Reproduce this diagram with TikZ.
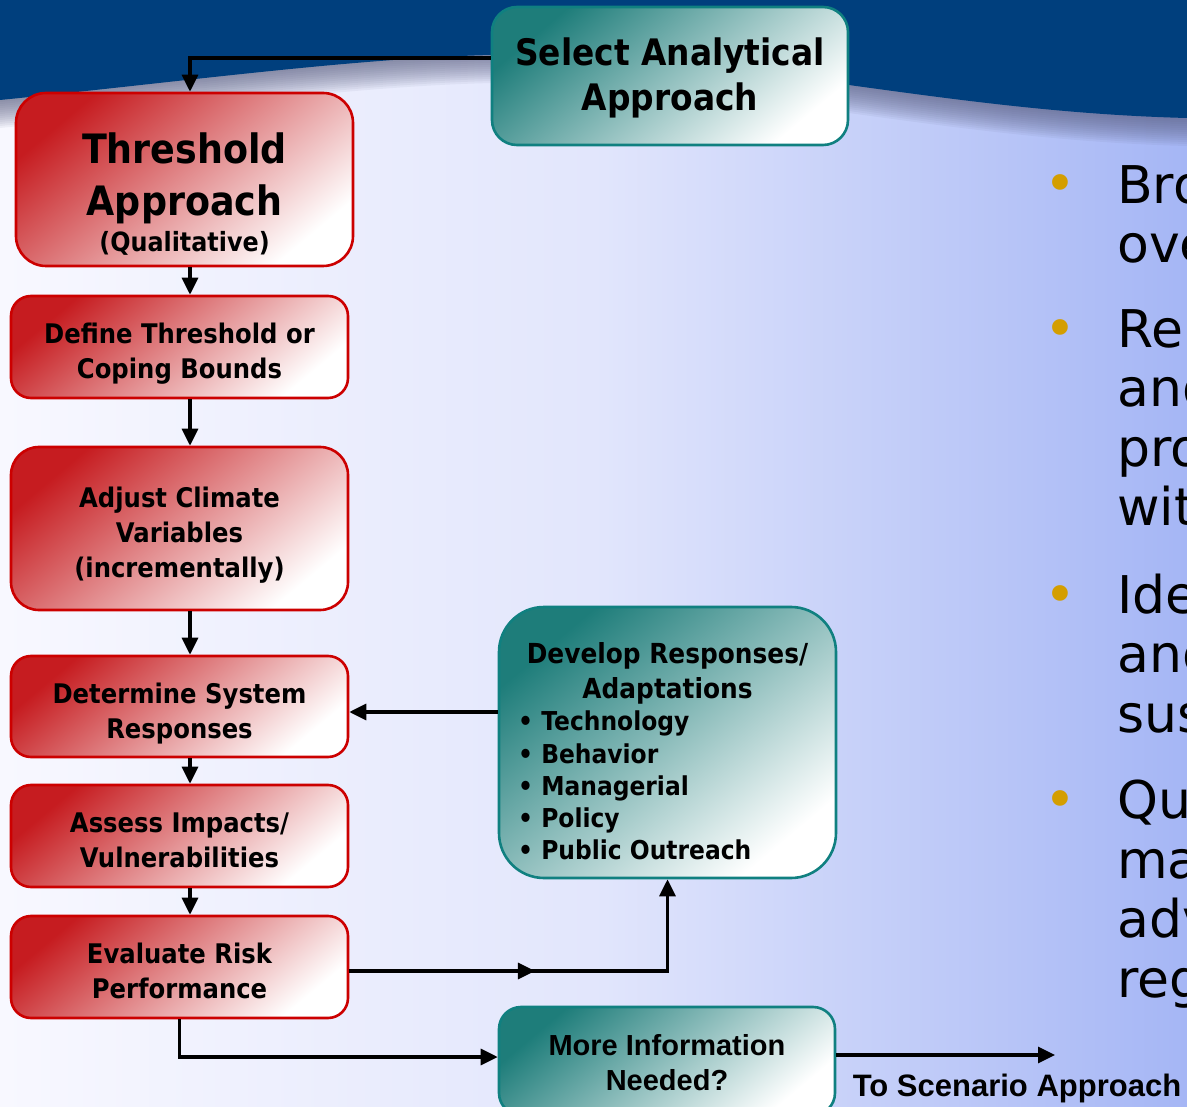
\documentclass[tikz,border=0pt]{standalone}
\usepackage{fontspec}
\setmainfont{DejaVu Sans}
\newfontfamily\boxfont{DejaVu Sans}[FakeStretch=0.9]
\newfontfamily\arialfont{Liberation Sans}
\newfontfamily\sidefont{DejaVu Sans}
\usetikzlibrary{arrows.meta,decorations.markings}

\definecolor{navy}{RGB}{0,63,125}
\definecolor{redb}{RGB}{204,0,0}
\definecolor{redf}{RGB}{198,28,32}
\definecolor{tealb}{RGB}{16,128,128}
\definecolor{tealf}{RGB}{30,125,122}
\definecolor{bgl}{RGB}{248,248,255}
\definecolor{bgm}{RGB}{226,230,252}
\definecolor{bgr}{RGB}{165,182,245}
\definecolor{dotc}{RGB}{212,158,0}
\definecolor{shadowc}{RGB}{90,95,130}

\tikzset{
  redbox/.style={draw=redb, line width=2.6pt, top color=redf, bottom color=white,
    shading angle=40, minimum width=337pt, inner sep=0pt, rounded corners=20pt},
  tealbox/.style={draw=tealb, line width=2.6pt, top color=tealf, bottom color=white,
    shading angle=40, inner sep=0pt, rounded corners=22pt},
  boxtext/.style={inner sep=0pt, align=center, font=\boxfont\bfseries\fontsize{27}{35}\selectfont},
  bullettext/.style={inner sep=0pt, align=left, anchor=north west, font=\boxfont\bfseries\fontsize{26}{32.25}\selectfont},
  arialtext/.style={inner sep=0pt, align=center, font=\arialfont\bfseries\fontsize{29}{35}\selectfont},
  tip/.style={-{Triangle[length=17pt,width=16pt]}},
  conn/.style={line width=3.3pt, tip},
  sidetext/.style={inner sep=0pt, align=left, anchor=north west, font=\sidefont\fontsize{52}{59.5}\selectfont},
  sidedot/.style={inner sep=0pt, anchor=base, text=dotc, font=\sidefont\fontsize{54}{54}\selectfont},
}

\begin{document}
\begin{tikzpicture}[x=1pt,y=-1pt]
\useasboundingbox (0,0) rectangle (1187,1107);
\clip (0,0) rectangle (1187,1107);

% background
\shade[left color=bgl, right color=bgr, middle color=bgm] (0,0) rectangle (1187,1107);
\foreach \i in {1,...,14} {
  \fill[shadowc, opacity=0.07] (0,0) -- (1187,0) -- (1187,{118+2*\i})
    .. controls (950,{112+2*\i}) and (760,{60+2*\i}) .. (540,{55+2*\i})
    .. controls (400,{51.8+2*\i}) and (200,{80+2*\i}) .. (0,{100+2*\i}) -- cycle;
}
\fill[navy] (0,0) -- (1187,0) -- (1187,118)
    .. controls (950,112) and (760,60) .. (540,55)
    .. controls (400,51.8) and (200,80) .. (0,100) -- cycle;

% boxes
\node[tealbox, minimum width=356pt, minimum height=138pt, rounded corners=25pt] (select) at (670,76) {};
\node[redbox, minimum height=173pt, rounded corners=30pt] (thr) at (184.5,179.5) {};
\node[redbox, minimum height=102pt] (def) at (179.5,347) {};
\node[redbox, minimum height=163pt, rounded corners=28pt] (adj) at (179.5,528.5) {};
\node[redbox, minimum height=101pt] (det) at (179.5,706.5) {};
\node[redbox, minimum height=102pt] (ass) at (179.5,836) {};
\node[redbox, minimum height=102pt] (eva) at (179.5,967) {};
\node[tealbox, minimum width=337pt, minimum height=271pt, rounded corners=45pt] (dev) at (667.5,742.5) {};
\node[tealbox, minimum width=336pt, minimum height=108pt, rounded corners=22pt] (more) at (667,1061) {};

% box texts
\node[boxtext, font=\boxfont\bfseries\fontsize{36.5}{45}\selectfont] (selectT) at (670,77.5) {Select Analytical\\Approach};
\node[boxtext, font=\boxfont\bfseries\fontsize{40.5}{52}\selectfont] (thrT) at (184.5,178.4) {Threshold\\Approach};
\node[boxtext, anchor=base, font=\boxfont\bfseries\fontsize{26.5}{30}\selectfont] (thrQ) at (184.5,252) {(Qualitative)};
\node[boxtext] (defT) at (179.5,353.5) {Define Threshold or\\Coping Bounds};
\node[boxtext] (adjT) at (179.5,535) {Adjust Climate\\Variables\\(incrementally)};
\node[boxtext] (detT) at (179.5,713.5) {Determine System\\Responses};
\node[boxtext] (assT) at (179.5,840.3) {Assess Impacts/\\Vulnerabilities};
\node[boxtext] (evaT) at (179.5,971.3) {Evaluate Risk\\Performance};
\node[boxtext, font=\boxfont\bfseries\fontsize{27.6}{35}\selectfont] (devT) at (667.5,673.5) {Develop Responses/\\Adaptations};
\node[bullettext] (devB) at (518,711) {• Technology\\• Behavior\\• Managerial\\• Policy\\• Public Outreach};
\node[arialtext] (moreT) at (667,1063) {More Information\\Needed?};
\node[arialtext, anchor=base, font=\arialfont\bfseries\fontsize{31}{31}\selectfont] (scenT) at (1017,1096) {To Scenario Approach};

% right-hand bullet text
\node[sidedot] (d1) at (1060,203) {•};
\node[sidedot] (d2) at (1060,348) {•};
\node[sidedot] (d3) at (1060,613) {•};
\node[sidedot] (d4) at (1060,818) {•};
\node[sidetext] (p1) at (1117,165.1) {Bro\\ove};
\node[sidetext] (p2) at (1117,309.1) {Re\\and\\pro\\wit};
\node[sidetext] (p3) at (1117,573.5) {Ide\\and\\sus};
\node[sidetext] (p4) at (1117,780) {Qu\\ma\\adv\\reg};

% connectors
\coordinate (scen) at (1055,1055);
\draw[conn] ([yshift=18pt]select.west) -| ([xshift=5.5pt]thr.north);
\draw[conn] ([xshift=5.5pt]thr.south) -- ([xshift=10.5pt]def.north);
\draw[conn] ([xshift=10.5pt]def.south) -- ([xshift=10.5pt]adj.north);
\draw[conn] ([xshift=10.5pt]adj.south) -- ([xshift=10.5pt]det.north);
\draw[conn] ([xshift=10.5pt]det.south) -- ([xshift=10.5pt]ass.north);
\draw[conn] ([xshift=10.5pt]ass.south) -- ([xshift=10.5pt]eva.north);
\draw[conn] ([yshift=30.5pt]dev.west) -- ([yshift=30.5pt]dev.west -| det.east);
\draw[conn, postaction={decorate}, decoration={markings,
    mark=at position 0.453 with {\arrow{Triangle[length=17pt,width=16pt]}}}]
  ([yshift=-4pt]eva.east) -| (dev.south);
\draw[conn] (eva.south) |- ([yshift=4pt]more.west);
\draw[conn] ([yshift=6pt]more.east) -- (scen);
\end{tikzpicture}
\end{document}
